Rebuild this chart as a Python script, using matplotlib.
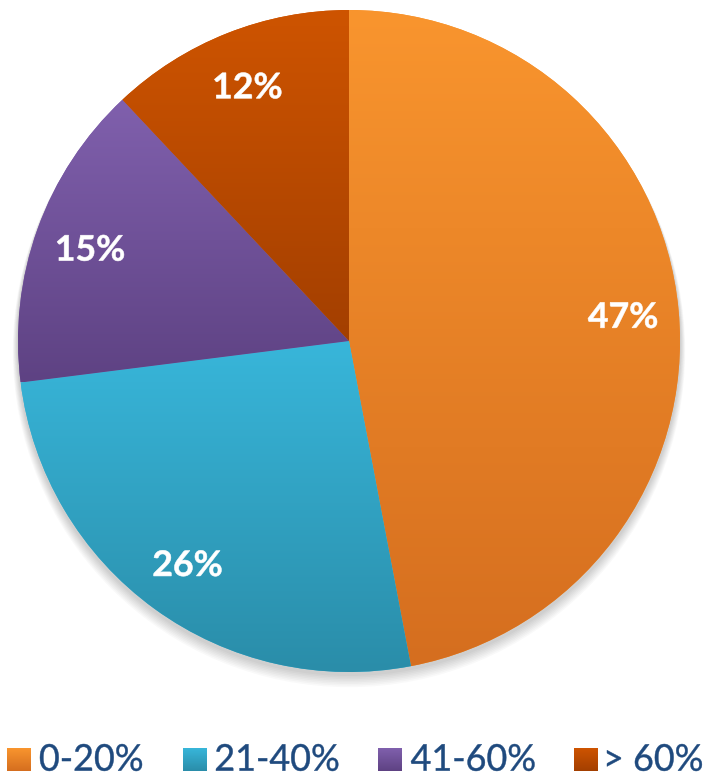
import matplotlib
matplotlib.use("Agg")
import matplotlib.pyplot as plt
import numpy as np
from matplotlib.colors import LinearSegmentedColormap
from matplotlib.patches import Circle, PathPatch
from matplotlib.textpath import TextPath
from matplotlib.font_manager import FontProperties
from matplotlib.transforms import Affine2D

# data
labels = ["0-20%", "21-40%", "41-60%", "> 60%"]
shares = [47, 26, 15, 12]
top_colors = ["#F9952E", "#38B6DA", "#8060AD", "#CE5400"]
bottom_colors = ["#D56E1F", "#2A8DA9", "#5E4283", "#A33F00"]
legend_x = [7, 183, 378, 574]

W, H = 709, 776
fig = plt.figure(figsize=(W / 100, H / 100), dpi=100)
ax = fig.add_axes([0, 0, 1, 1])

cx, cy, r = 349, H - 341, 331


def text_scale(s, prop, width, height):
    ext = TextPath((0, 0), s, size=1, prop=prop).get_extents()
    return width / ext.width, height / ext.height


def draw_text(s, x, y, prop, sx, sy, color, ha="center", lw=0):
    tp = TextPath((0, 0), s, size=1, prop=prop)
    ext = tp.get_extents()
    x0 = ext.x0 if ha == "left" else (ext.x0 + ext.x1) / 2
    tr = Affine2D().translate(-x0, -(ext.y0 + ext.y1) / 2).scale(sx, sy).translate(x, y)
    ax.add_patch(PathPatch(tr.transform_path(tp), facecolor=color, edgecolor=color,
                           lw=lw, zorder=6))


# soft shadow under the pie
for i in range(8):
    ax.add_patch(Circle((cx, cy - 3 - i), r + 1 + i * 0.6, color="black",
                        alpha=0.025, lw=0, zorder=0))

wedges, _, autotexts = ax.pie(shares, startangle=90, counterclock=False,
                              center=(cx, cy), radius=r, autopct="%d%%",
                              pctdistance=0.83, frame=True,
                              wedgeprops=dict(linewidth=0))
ax.set_aspect("auto")

grad = np.linspace(0, 1, 256).reshape(-1, 1)
for w, c1, c2 in zip(wedges, top_colors, bottom_colors):
    w.set_facecolor(c1)
    bb = w.get_path().get_extents(w.get_transform() + ax.transData.inverted())
    cmap = LinearSegmentedColormap.from_list("g", [c1, c2])
    im = ax.imshow(grad, cmap=cmap, aspect="auto", origin="upper",
                   extent=[bb.x0, bb.x1, bb.y0, bb.y1], zorder=2)
    im.set_clip_path(w)

# percentage labels, bold white
bold = FontProperties(family="Lato", weight="bold")
psx, psy = text_scale("47%", bold, 69, 26)
for t in autotexts:
    x, y = t.get_position()
    draw_text(t.get_text(), x, y, bold, psx, psy, "white", lw=0.4)
    t.set_visible(False)

# legend
reg = FontProperties(family="Lato")
lsx, lsy = text_scale("0-20%", reg, 102, 27)
for x, lab, c1, c2 in zip(legend_x, labels, top_colors, bottom_colors):
    cmap = LinearSegmentedColormap.from_list("g", [c1, c2])
    ax.imshow(grad, cmap=cmap, aspect="auto", origin="upper",
              extent=[x, x + 24, H - 771, H - 748], zorder=3)
    draw_text(lab, x + 33, H - 757.5, reg, lsx, lsy, "#1F4A7E", ha="left", lw=0.3)

ax.set_xlim(0, W)
ax.set_ylim(0, H)
ax.axis("off")
fig.savefig("out.png", dpi=100)
